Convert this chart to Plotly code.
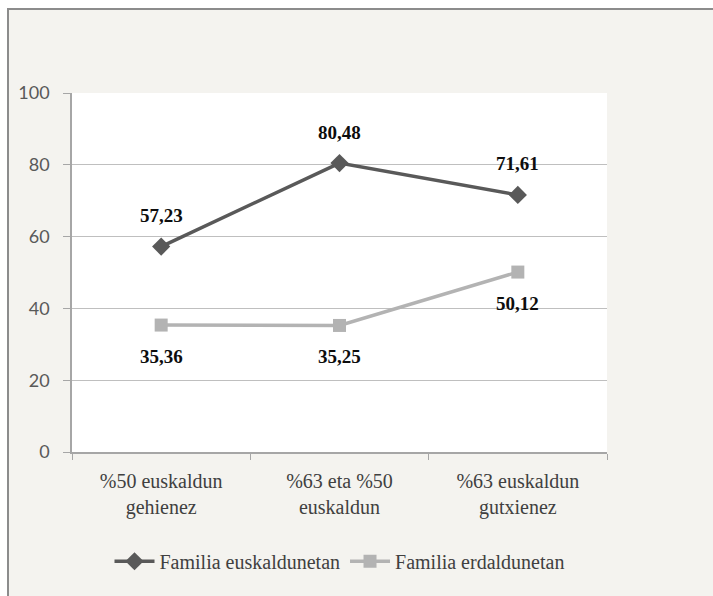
import plotly.graph_objects as go

categories = ["%50 euskaldun<br>gehienez", "%63 eta %50<br>euskaldun", "%63 euskaldun<br>gutxienez"]
eusk = [57.23, 80.48, 71.61]
erdal = [35.36, 35.25, 50.12]
series_names = ["Familia euskaldunetan", "Familia erdaldunetan"]

W, H = 713, 596
L, R, T, B = 72, 106, 93, 144
pw = W - L - R
ph = H - T - B

SERIF = "Liberation Serif"

fig = go.Figure()
fig.add_trace(go.Scatter(
    x=categories, y=eusk, name=series_names[0], mode="lines+markers",
    line=dict(color="#595959", width=3.5),
    marker=dict(symbol="diamond", size=14, color="#595959"),
))
fig.add_trace(go.Scatter(
    x=categories, y=erdal, name=series_names[1], mode="lines+markers",
    line=dict(color="#b3b3b3", width=3.5),
    marker=dict(symbol="square", size=13, color="#b3b3b3"),
))

annotations = []
for vals, shift in ((eusk, 31), (erdal, -31)):
    for c, v in zip(categories, vals):
        annotations.append(dict(
            x=c, y=v, xref="x", yref="y", showarrow=False, yshift=shift,
            text="<b>" + f"{v:.2f}".replace(".", ",") + "</b>",
            font=dict(family=SERIF, size=19, color="#0d0d0d"),
        ))

shapes = [
    dict(type="rect", xref="paper", yref="paper",
         x0=(8 - L) / pw, x1=(W + 20 - L) / pw,
         y0=-(H + 20 - T - ph) / ph, y1=(H - 9 - B) / ph,
         fillcolor="#f4f3ef", line=dict(color="#8c8c8c", width=2), layer="below"),
    dict(type="rect", xref="paper", yref="paper", x0=0, x1=1, y0=0, y1=1,
         fillcolor="white", line=dict(width=0), layer="below"),
]

fig.update_layout(
    width=W, height=H,
    margin=dict(l=L, r=R, t=T, b=B),
    paper_bgcolor="white", plot_bgcolor="white",
    font=dict(family=SERIF, color="#404040"),
    shapes=shapes, annotations=annotations,
    showlegend=True,
    legend=dict(orientation="h", x=0.5, xanchor="center", y=-0.25, yanchor="top",
                font=dict(family=SERIF, size=20, color="#404040"),
                bgcolor="rgba(0,0,0,0)", itemwidth=40),
    xaxis=dict(
        type="category", tickson="boundaries", ticks="outside", ticklen=6,
        tickcolor="#a6a6a6", showline=True, linecolor="#a6a6a6", linewidth=1.5,
        showgrid=False, tickfont=dict(family=SERIF, size=20, color="#404040"),
        ticklabelstandoff=10, range=[-0.5, 2.5],
    ),
    yaxis=dict(
        range=[0, 100], dtick=20, ticks="outside", ticklen=7, tickcolor="#a6a6a6",
        showline=True, linecolor="#a6a6a6", linewidth=1.5,
        showgrid=True, gridcolor="#bfbfbf", gridwidth=1.2, zeroline=False,
        tickfont=dict(family="Lato", size=18, color="#595959"),
        ticklabelstandoff=10,
    ),
)

fig.write_html("out.html")
